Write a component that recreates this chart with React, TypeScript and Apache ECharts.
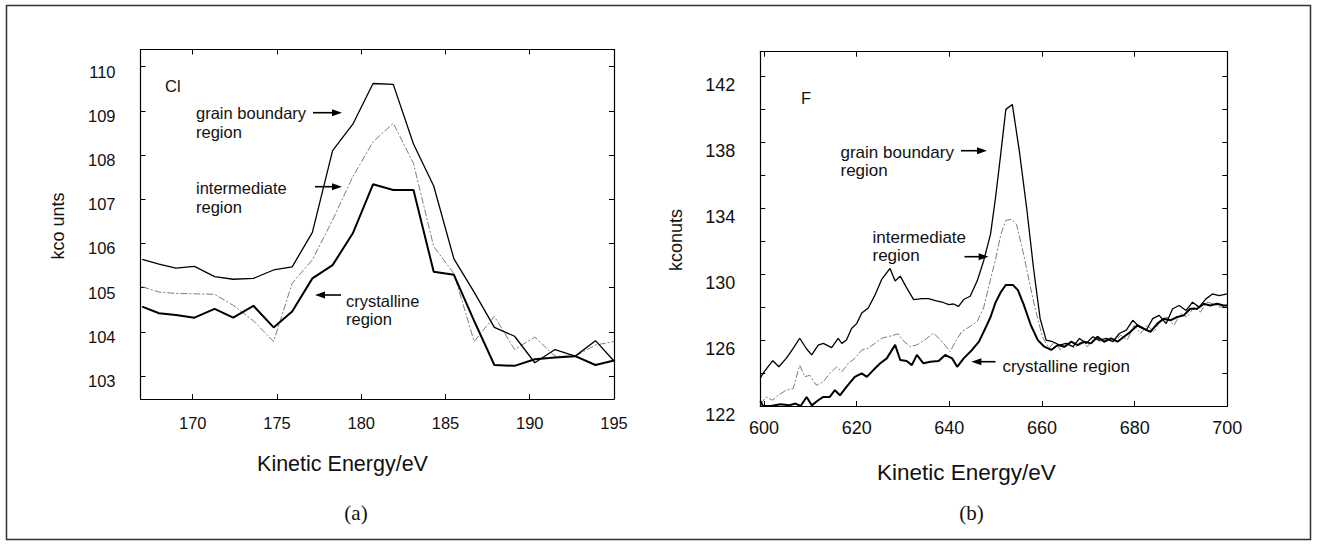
import React, { useEffect, useRef } from "react";
import * as echarts from "echarts";

// ---------- (a) Cl ----------
const clEnergy = [167, 168, 169, 170.1, 171.3, 172.4, 173.6, 174.8, 175.9, 177.1, 178.3, 179.5, 180.7, 181.9, 183.1, 184.3, 185.5, 186.7, 187.9, 189.1, 190.3, 191.5, 192.7, 193.9, 195];
const clGrain = [105.64, 105.53, 105.44, 105.48, 105.25, 105.19, 105.21, 105.4, 105.47, 106.25, 108.1, 108.7, 109.62, 109.6, 108.25, 107.3, 105.65, 104.9, 104.1, 103.9, 103.3, 103.6, 103.45, 103.8, 103.34];
const clInter = [105.02, 104.9, 104.87, 104.86, 104.85, 104.6, 104.25, 103.78, 105.1, 105.63, 106.53, 107.51, 108.3, 108.72, 107.81, 105.93, 105.32, 103.78, 104.35, 103.6, 103.88, 103.45, 103.45, 103.7, 103.78];
const clCryst = [104.57, 104.42, 104.38, 104.32, 104.52, 104.32, 104.59, 104.1, 104.46, 105.21, 105.51, 106.23, 107.34, 107.21, 107.21, 105.36, 105.29, 104.25, 103.25, 103.23, 103.38, 103.42, 103.45, 103.25, 103.35];

// ---------- (b) F ----------
const fGrain: number[][] = [
  [599.2, 123.7], [600.1, 124.1], [601.9, 124.75], [603.2, 124.38], [604.8, 124.89], [606.3, 125.5], [607.7, 126.11], [609.2, 125.46], [610.3, 125.1], [611.7, 125.7], [612.8, 125.8], [614.6, 125.54], [616.0, 126.1], [616.8, 125.8], [617.8, 126.0], [618.9, 126.7], [620.0, 127.0], [621.1, 127.64], [622.5, 127.95], [624.0, 128.76], [625.4, 129.68], [627.2, 130.35], [628.3, 129.58], [629.4, 129.88], [630.8, 129.17], [632.3, 128.46], [634.1, 128.52], [635.5, 128.52], [637.0, 128.4], [638.4, 128.31], [639.9, 128.15], [640.9, 128.19], [642.0, 128.05], [643.1, 128.46], [644.5, 128.66], [646.0, 129.58], [647.4, 130.8], [648.9, 132.43], [650.0, 134.7], [651.1, 137.3], [652.2, 140.0], [653.6, 140.3], [655.1, 137.5], [656.7, 134.0], [658.2, 130.3], [659.6, 127.3], [660.9, 126.0], [662.3, 125.9], [663.8, 125.7], [665.2, 125.8], [666.7, 125.6], [668.1, 126.1], [669.5, 125.8], [671.0, 126.2], [672.4, 126.0], [673.9, 126.1], [675.3, 125.9], [676.7, 126.4], [678.2, 126.6], [679.6, 127.2], [681.0, 126.8], [682.5, 126.6], [683.9, 127.3], [685.3, 127.5], [686.8, 127.0], [688.2, 127.9], [689.6, 128.1], [691.1, 127.8], [692.5, 128.3], [693.9, 128.0], [695.4, 128.5], [696.8, 128.8], [698.2, 128.7], [700.0, 128.8]
];
const fInter: number[][] = [
  [599.2, 122.1], [600.5, 122.55], [601.9, 122.35], [603.0, 122.65], [604.8, 122.96], [606.3, 123.06], [607.7, 124.48], [608.8, 123.77], [609.9, 123.87], [611.3, 123.26], [612.8, 123.47], [614.2, 123.98], [615.7, 124.38], [616.8, 124.08], [618.2, 124.59], [619.6, 124.89], [621.1, 125.4], [622.5, 125.5], [624.0, 125.81], [625.4, 126.11], [626.9, 126.22], [629.0, 126.38], [630.1, 125.95], [631.6, 125.6], [633.0, 125.71], [634.4, 125.95], [636.6, 126.42], [638.1, 126.01], [640.2, 125.3], [641.3, 125.91], [642.7, 126.52], [644.5, 126.83], [646.0, 127.13], [647.4, 127.95], [648.9, 129.7], [650.0, 130.9], [651.1, 132.4], [652.2, 133.27], [653.4, 133.33], [654.5, 133.03], [656.0, 131.25], [657.5, 129.23], [658.6, 127.82], [660.1, 126.2], [661.5, 125.5], [662.7, 125.9], [664.0, 125.4], [665.5, 125.8], [667.0, 125.5], [668.4, 125.9], [669.8, 125.6], [671.3, 126.1], [672.7, 125.9], [674.1, 126.0], [675.6, 125.9], [677.0, 126.3], [678.4, 126.0], [679.9, 126.9], [681.3, 126.4], [682.7, 126.9], [684.2, 126.5], [685.6, 127.2], [687.0, 127.4], [688.5, 126.9], [689.9, 127.6], [691.3, 127.4], [692.8, 128.0], [694.2, 127.7], [695.6, 128.3], [697.1, 128.2], [698.5, 128.0], [700.0, 128.1]
];
const fCryst: number[][] = [
  [599.2, 122.3], [599.8, 122.0], [601.5, 122.0], [603.5, 122.1], [605.5, 122.05], [606.8, 122.15], [607.9, 122.0], [609.2, 122.55], [610.3, 122.04], [611.7, 122.35], [612.8, 122.55], [614.2, 122.55], [615.3, 122.96], [616.4, 122.65], [617.8, 123.16], [619.6, 123.77], [621.1, 123.98], [622.2, 123.77], [623.6, 124.18], [625.1, 124.59], [626.5, 124.89], [628.3, 125.71], [629.4, 124.79], [630.8, 124.73], [631.9, 124.48], [633.0, 125.1], [634.4, 124.59], [635.9, 124.69], [637.7, 124.73], [639.1, 125.1], [640.6, 124.89], [641.7, 124.38], [643.1, 124.89], [644.9, 125.4], [646.4, 125.91], [647.8, 126.73], [648.9, 127.4], [650.0, 128.3], [651.1, 128.9], [652.2, 129.35], [653.7, 129.35], [654.8, 129.03], [656.0, 128.2], [657.6, 126.9], [659.1, 126.0], [660.5, 125.6], [662.0, 125.4], [663.4, 125.7], [664.9, 125.6], [666.3, 125.9], [667.7, 125.7], [669.1, 125.9], [670.6, 125.8], [672.0, 126.2], [673.4, 125.9], [674.9, 126.1], [676.3, 125.9], [677.7, 126.2], [679.1, 126.5], [680.6, 126.9], [682.0, 126.7], [683.4, 126.5], [684.9, 127.0], [686.3, 127.3], [687.7, 127.2], [689.2, 127.4], [690.6, 127.5], [692.0, 127.9], [693.5, 127.9], [694.9, 128.2], [696.3, 128.1], [697.8, 128.2], [699.2, 128.1], [700.0, 128.1]
];

const SANS = "'Liberation Sans', Arial, Helvetica, sans-serif";
const SERIF = "'Liberation Serif', 'Times New Roman', serif";
const INK = "#111";

const near = (v: number, step: number, base = 0) => {
  const r = (v - base) / step;
  return Math.abs(r - Math.round(r)) < 1e-6;
};

function xAxisPair(grid: number, min: number, max: number, split: number, step: number, fs: number, margin: number) {
  const common = {
    type: "value",
    gridIndex: grid,
    min,
    max,
    splitNumber: split,
    splitLine: { show: false },
    axisLine: { show: true, onZero: false, lineStyle: { color: "#000", width: 1.2 } },
    axisTick: { show: true, inside: true, length: 5, lineStyle: { color: "#000", width: 1 } },
  };
  return [
    {
      ...common,
      position: "bottom",
      axisLabel: {
        show: true,
        margin,
        fontSize: fs,
        color: INK,
        fontFamily: SANS,
        formatter: (v: number) => (near(v, step) ? String(Math.round(v)) : ""),
      },
    },
    { ...common, position: "top", axisLabel: { show: false } },
  ];
}

function yAxisPair(grid: number, min: number, max: number, opts: any, labelStep: number, base: number, fs: number, shift: number) {
  const common = {
    type: "value",
    gridIndex: grid,
    min,
    max,
    ...opts,
    splitLine: { show: false },
    axisLine: { show: true, onZero: false, lineStyle: { color: "#000", width: 1.2 } },
    axisTick: { show: true, inside: true, length: 5, lineStyle: { color: "#000", width: 1 } },
  };
  return [
    {
      ...common,
      position: "left",
      axisLabel: {
        show: true,
        margin: 25,
        fontSize: fs,
        color: INK,
        fontFamily: SANS,
        verticalAlign: "top",
        lineHeight: shift * 2,
        formatter: (v: number) => (near(v, labelStep, base) ? String(Math.round(v)) : ""),
      },
    },
    { ...common, position: "right", axisLabel: { show: false } },
  ];
}

function arrow(x1: number, x2: number, y: number, dir: "left" | "right") {
  const tip = dir === "right" ? x2 : x1;
  const back = dir === "right" ? tip - 10 : tip + 10;
  const lineStart = dir === "right" ? x1 : x1 + 6;
  const lineEnd = dir === "right" ? x2 - 6 : x2;
  return {
    type: "group",
    children: [
      { type: "line", shape: { x1: lineStart, y1: y, x2: lineEnd, y2: y }, style: { stroke: "#000", lineWidth: 1.6 } },
      { type: "polygon", shape: { points: [[tip, y], [back, y - 3.5], [back, y + 3.5]] }, style: { fill: "#000" } },
    ],
  };
}

function txt(x: number, y: number, text: string, fs: number, extra: any = {}, rotation = 0) {
  return {
    type: "text",
    x,
    y,
    rotation,
    style: { text, fontSize: fs, fontFamily: SANS, fill: INK, textVerticalAlign: "middle", textAlign: "left", ...extra },
  };
}

const grainStyle = { color: "#000", width: 1.3 };
const interStyle = { color: "#6d6d6d", width: 0.9, type: [7, 2, 2, 2] };
const crystStyle = { color: "#000", width: 2 };

export default function App() {
  const ref = useRef<HTMLDivElement>(null);
  useEffect(() => {
    const chart = echarts.init(ref.current!, null, { renderer: "svg" });
    const xa = [
      ...xAxisPair(0, 166.9, 195, 6, 5, 16.5, 15),
      ...xAxisPair(1, 599.2, 700, 5, 20, 18, 13),
    ];
    const ya = [
      ...yAxisPair(0, 102.48, 110.39, { splitNumber: 8 }, 1, 0, 16.5, 5),
      ...yAxisPair(1, 122, 143.5, { interval: 2 }, 4, 122, 18, 9),
    ];
    const line = (name: string, data: number[][], style: any, axis: number, z: number) => ({
      type: "line",
      name,
      data,
      xAxisIndex: axis,
      yAxisIndex: axis,
      showSymbol: false,
      symbol: "none",
      lineStyle: style,
      z,
    });
    chart.setOption({
      animation: false,
      backgroundColor: "#fff",
      textStyle: { fontFamily: SANS },
      grid: [
        { left: 140.5, top: 49.5, width: 473.5, height: 349.5, show: false },
        { left: 760.3, top: 51.7, width: 467, height: 354.3, show: false },
      ],
      xAxis: xa,
      yAxis: ya,
      series: [
        line("Cl intermediate region", clEnergy.map((e, i) => [e, clInter[i]]), interStyle, 0, 2),
        line("Cl grain boundary region", clEnergy.map((e, i) => [e, clGrain[i]]), grainStyle, 0, 3),
        line("Cl crystalline region", clEnergy.map((e, i) => [e, clCryst[i]]), crystStyle, 0, 3),
        line("F intermediate region", fInter, interStyle, 2, 2),
        line("F grain boundary region", fGrain, grainStyle, 2, 3),
        line("F crystalline region", fCryst, crystStyle, 2, 3),
      ],
      graphic: [
        { type: "rect", shape: { x: 6.5, y: 5.5, width: 1304, height: 534 }, style: { fill: "none", stroke: "#333", lineWidth: 1.5 } },
        // left panel
        txt(165, 86, "Cl", 16.5),
        txt(196, 112.5, "grain boundary", 16.5),
        txt(196, 131.5, "region", 16.5),
        arrow(313, 342, 112.7, "right"),
        txt(196, 187.5, "intermediate", 16.5),
        txt(196, 207, "region", 16.5),
        arrow(315, 342, 186.7, "right"),
        arrow(315, 341, 295, "left"),
        txt(346, 300.5, "crystalline", 16.5),
        txt(346, 319, "region", 16.5),
        txt(58, 226, "kco unts", 18, { textAlign: "center" }, Math.PI / 2),
        txt(342.5, 464, "Kinetic Energy/eV", 21.5, { textAlign: "center" }),
        { type: "text", x: 356, y: 513, style: { text: "(a)", fontSize: 21, fontFamily: SERIF, fill: INK, textAlign: "center", textVerticalAlign: "middle" } },
        // right panel
        txt(801, 97.5, "F", 16.5),
        txt(840.5, 152, "grain boundary", 17),
        txt(840.5, 170, "region", 17),
        arrow(961, 987, 150.7, "right"),
        txt(872.5, 237.5, "intermediate", 17),
        txt(872.5, 255, "region", 17),
        arrow(964.5, 988.6, 256.7, "right"),
        arrow(971.4, 995.5, 361.7, "left"),
        txt(1002.4, 366, "crystalline region", 17),
        txt(676, 240, "kconuts", 18, { textAlign: "center" }, Math.PI / 2),
        txt(966.3, 472, "Kinetic Energy/eV", 22.5, { textAlign: "center" }),
        { type: "text", x: 971.5, y: 513, style: { text: "(b)", fontSize: 21, fontFamily: SERIF, fill: INK, textAlign: "center", textVerticalAlign: "middle" } },
      ],
    });
    return () => chart.dispose();
  }, []);
  return (
    <div
      ref={ref}
      style={{ position: "fixed", left: 0, top: 0, width: 1318, height: 545, background: "#fff" }}
    />
  );
}
